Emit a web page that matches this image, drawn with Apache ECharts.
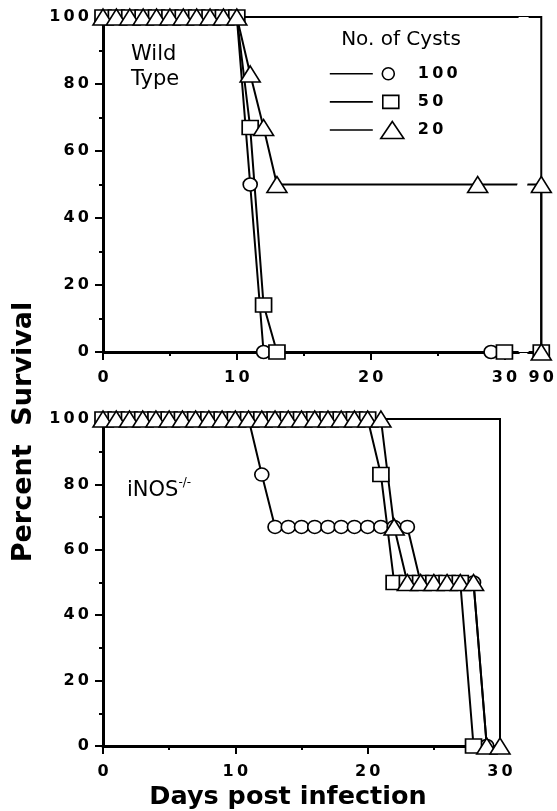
<!DOCTYPE html>
<html><head><meta charset="utf-8">
<script src="https://cdn.jsdelivr.net/npm/echarts@6/dist/echarts.min.js"></script>
<style>html,body{margin:0;padding:0;background:#fff}#c{width:557px;height:811px}</style>
</head><body><div id="c"></div>
<script>
// ---- data (day, percent survival) ----
const cystGroups = ['100', '50', '20'];
const wt100 = [[0,100],[1,100],[2,100],[3,100],[4,100],[5,100],[6,100],[7,100],[8,100],[9,100],[10,100],[11,50],[12,0],[29,0],[90,0]];
const wt50  = [[0,100],[1,100],[2,100],[3,100],[4,100],[5,100],[6,100],[7,100],[8,100],[9,100],[10,100],[11,67],[12,14],[13,0],[30,0],[90,0]];
const wt20  = [[0,100],[1,100],[2,100],[3,100],[4,100],[5,100],[6,100],[7,100],[8,100],[9,100],[10,100],[11,83],[12,67],[13,50],[28,50],[90,50],[90,0]];
const ko100 = [[0,100],[1,100],[2,100],[3,100],[4,100],[5,100],[6,100],[7,100],[8,100],[9,100],[10,100],[11,100],[12,83],[13,67],[14,67],[15,67],[16,67],[17,67],[18,67],[19,67],[20,67],[21,67],[22,67],[23,67],[24,50],[25,50],[26,50],[27,50],[28,50],[29,0]];
const ko50  = [[0,100],[1,100],[2,100],[3,100],[4,100],[5,100],[6,100],[7,100],[8,100],[9,100],[10,100],[11,100],[12,100],[13,100],[14,100],[15,100],[16,100],[17,100],[18,100],[19,100],[20,100],[21,83],[22,50],[23,50],[24,50],[25,50],[26,50],[27,50],[28,0]];
const ko20  = [[0,100],[1,100],[2,100],[3,100],[4,100],[5,100],[6,100],[7,100],[8,100],[9,100],[10,100],[11,100],[12,100],[13,100],[14,100],[15,100],[16,100],[17,100],[18,100],[19,100],[20,100],[21,100],[22,67],[23,50],[24,50],[25,50],[26,50],[27,50],[28,50],[29,0],[30,0]];
const topXTicks = [0, 10, 20, 30, 90];
const topXMinor = [5, 15, 25];
const yTicks = [0, 20, 40, 60, 80, 100];

const FONT = '"DejaVu Sans", sans-serif';
const spaced = v => String(v).split('').join('\u2009');
const blk = '#000';

const ICON_PAD = 'M0,0 L0,0 M74,17 L74,17 ';
const ICON_LINE = 'M0,8.5 L43,8.5 ';
const icons = {
  '100': 'path://' + ICON_PAD + ICON_LINE + 'M52.5,8.5 A6,6 0 1,1 64.5,8.5 A6,6 0 1,1 52.5,8.5 Z',
  '50':  'path://' + ICON_PAD + ICON_LINE + 'M53,2 L69,2 L69,15 L53,15 Z',
  '20':  'path://' + ICON_PAD + ICON_LINE + 'M62.5,0 L74,17 L51,17 Z'
};
const symbols = { '100': 'circle', '50': 'rect', '20': 'triangle' };
const sizes = { '100': [14, 13], '50': [16, 14], '20': [20, 16] };

function mk(name, data, xi, yi) {
  return {
    name, type: 'line', data, xAxisIndex: xi, yAxisIndex: yi,
    symbol: symbols[name], symbolSize: sizes[name], showSymbol: true, showAllSymbol: true,
    clip: false, animation: false,
    lineStyle: { color: blk, width: 2 },
    itemStyle: { color: '#fff', borderColor: blk, borderWidth: 1.6 },
    emphasis: { disabled: true }
  };
}

const axisLineStyle = { show: true, onZero: false, lineStyle: { color: blk, width: 3 } };
const tickStyle = { color: blk, width: 2 };
const labelStyle = { color: blk, fontSize: 16, fontWeight: 'bold', fontFamily: FONT, formatter: spaced };

const chart = echarts.init(document.getElementById('c'), null, { renderer: 'canvas' });
chart.setOption({
  animation: false,
  backgroundColor: '#fff',
  grid: [
    { left: 103, top: 17, width: 441, height: 335, show: true, borderColor: blk, borderWidth: 2, backgroundColor: 'transparent' },
    { left: 103, top: 419, width: 397, height: 327, show: true, borderColor: blk, borderWidth: 2, backgroundColor: 'transparent' }
  ],
  xAxis: [
    {
      gridIndex: 0, type: 'value', position: 'bottom', min: 0, max: 90,
      breaks: [{ start: 31, end: 89, gap: '2.3%' }],
      breakArea: { show: true, itemStyle: { color: '#fff', borderWidth: 0, opacity: 1 }, zigzagAmplitude: 2, expandOnClick: false },
      axisLine: axisLineStyle,
      axisTick: { show: true, length: 8, lineStyle: tickStyle, customValues: topXTicks },
      axisLabel: Object.assign({ customValues: topXTicks, margin: 18 }, labelStyle),
      splitLine: { show: false }
    },
    {
      gridIndex: 0, type: 'value', position: 'bottom', min: 0, max: 90,
      breaks: [{ start: 31, end: 89, gap: '2.3%' }],
      breakArea: { show: false },
      axisLine: { show: false },
      axisTick: { show: true, length: 4, lineStyle: tickStyle, customValues: topXMinor },
      axisLabel: { show: false },
      splitLine: { show: false }
    },
    {
      gridIndex: 1, type: 'value', position: 'bottom', min: 0, max: 30, interval: 10,
      axisLine: axisLineStyle,
      axisTick: { show: true, length: 8, lineStyle: tickStyle },
      minorTick: { show: true, splitNumber: 2, length: 4, lineStyle: tickStyle },
      axisLabel: Object.assign({ margin: 18 }, labelStyle),
      splitLine: { show: false }, minorSplitLine: { show: false }
    }
  ],
  yAxis: [0, 1].map(g => ({
    gridIndex: g, type: 'value', min: 0, max: 100, interval: 20,
    axisLine: axisLineStyle,
    axisTick: { show: true, length: 8, lineStyle: tickStyle },
    minorTick: { show: true, splitNumber: 2, length: 4, lineStyle: tickStyle },
    axisLabel: Object.assign({ margin: 14, customValues: yTicks }, labelStyle),
    splitLine: { show: false }, minorSplitLine: { show: false }
  })),
  legend: {
    orient: 'vertical', left: 324, top: 59.5,
    itemWidth: 74, itemHeight: 17, itemGap: 9.5,
    selectedMode: false,
    data: cystGroups.map(n => ({ name: n, icon: icons[n] })),
    itemStyle: { color: '#fff', borderColor: blk, borderWidth: 1.6 },
    textStyle: { color: blk, fontSize: 16, fontWeight: 'bold', fontFamily: FONT, lineHeight: 17, padding: [0, 0, 0, 9] },
    formatter: spaced
  },
  graphic: [
    { type: 'text', x: 401, y: 40, style: { text: 'No. of Cysts', font: '20px "DejaVu Sans"', fill: blk, align: 'center', verticalAlign: 'middle' } },
    { type: 'text', x: 131, y: 42, style: { text: 'Wild\nType', font: '21px "DejaVu Sans"', lineHeight: 25, fill: blk, align: 'left', verticalAlign: 'top' } },
    { type: 'text', x: 127, y: 477, style: {
        text: '{a|iNOS}{b|-/-}', fill: blk, align: 'left', verticalAlign: 'top',
        rich: { a: { fontSize: 21, fontFamily: FONT, lineHeight: 24, verticalAlign: 'bottom' },
                b: { fontSize: 12, fontFamily: FONT, lineHeight: 12, verticalAlign: 'top' } } } },
    { type: 'text', x: 24, y: 432, rotation: Math.PI / 2, style: { text: 'Percent  Survival', font: 'bold 27px "DejaVu Sans"', fill: blk, align: 'center', verticalAlign: 'middle' } },
    { type: 'text', x: 288, y: 797, style: { text: 'Days post infection', font: 'bold 25.5px "DejaVu Sans"', fill: blk, align: 'center', verticalAlign: 'middle' } }
  ],
  series: [
    mk('100', wt100, 0, 0), mk('50', wt50, 0, 0), mk('20', wt20, 0, 0),
    mk('100', ko100, 2, 1), mk('50', ko50, 2, 1), mk('20', ko20, 2, 1)
  ]
});
</script></body></html>
